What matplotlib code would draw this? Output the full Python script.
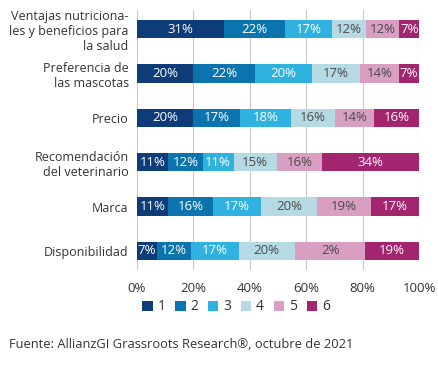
import numpy as np
import matplotlib.pyplot as plt

plt.rcParams['font.family'] = ['Open Sans', 'DejaVu Sans']

# categories (top to bottom)
categories = ['Ventajas nutriciona-\nles y beneficios para\nla salud',
              'Preferencia de\nlas mascotas',
              'Precio',
              'Recomendación\ndel veterinario',
              'Marca',
              'Disponibilidad']

series_names = ['1', '2', '3', '4', '5', '6']

# segment widths (%)
r1 = [31, 20, 20, 11, 11, 7]
r2 = [22, 22, 17, 12, 16, 12]
r3 = [17, 20, 18, 11, 17, 17]
r4 = [12, 17, 16, 15, 20, 20]
r5 = [12, 14, 14, 16, 19, 25]
r6 = [7, 7, 16, 34, 17, 19]

# labels as printed on the chart
l1 = ['31%', '20%', '20%', '11%', '11%', '7%']
l2 = ['22%', '22%', '17%', '12%', '16%', '12%']
l3 = ['17%', '20%', '18%', '11%', '17%', '17%']
l4 = ['12%', '17%', '16%', '15%', '20%', '20%']
l5 = ['12%', '14%', '14%', '16%', '19%', '2%']
l6 = ['7%', '7%', '16%', '34%', '17%', '19%']

colors = ['#0d3c78', '#0b74ae', '#2fb2df', '#b6dae3', '#d99fc2', '#a3246f']
text_colors = ['white', 'white', 'white', '#4a4a4a', '#4a4a4a', 'white']

values = [r1, r2, r3, r4, r5, r6]
labels = [l1, l2, l3, l4, l5, l6]

fig = plt.figure(figsize=(4.38, 3.67), dpi=100)
ax = fig.add_axes([137 / 438, 1 - 270 / 367, 282 / 438, 260 / 367])

y = np.arange(len(categories))
left = np.zeros(len(categories))
total = np.array([sum(v[j] for v in values) for j in range(len(categories))], dtype=float)
for i in range(6):
    w = np.array(values[i], dtype=float) / total * 100
    ax.barh(y, w, left=left, height=0.41, color=colors[i], label=series_names[i], zorder=3)
    for j in range(len(categories)):
        ax.text(left[j] + w[j] / 2, y[j], labels[i][j], ha='center', va='center',
                color=text_colors[i], fontsize=9.5, zorder=4)
    left += w

ax.set_xlim(0, 100)
ax.set_ylim(5.43, -0.43)
ax.set_yticks(y)
ax.set_yticklabels(categories, fontsize=9, color='#333333', linespacing=1.2)
ax.set_xticks([0, 20, 40, 60, 80, 100])
ax.set_xticklabels(['0%', '20%', '40%', '60%', '80%', '100%'], fontsize=9.5, color='#333333')
ax.tick_params(length=0)
ax.tick_params(axis='y', pad=6)
ax.tick_params(axis='x', pad=9)
ax.grid(axis='x', color='#c8c8c8', linewidth=0.8, zorder=0)
for s in ax.spines.values():
    s.set_visible(False)

fig.legend(loc='center', bbox_to_anchor=(236 / 438, 1 - 307 / 367), ncol=6, frameon=False,
           handlelength=0.75, handleheight=0.75, handletextpad=0.35, columnspacing=0.7,
           fontsize=10, labelcolor='#333333')

fig.text(9 / 438, 1 - 345 / 367, 'Fuente: AllianzGI Grassroots Research®, octubre de 2021',
         fontsize=9.25, color='#333333', va='center', ha='left')

fig.savefig('out.png', dpi=100)
